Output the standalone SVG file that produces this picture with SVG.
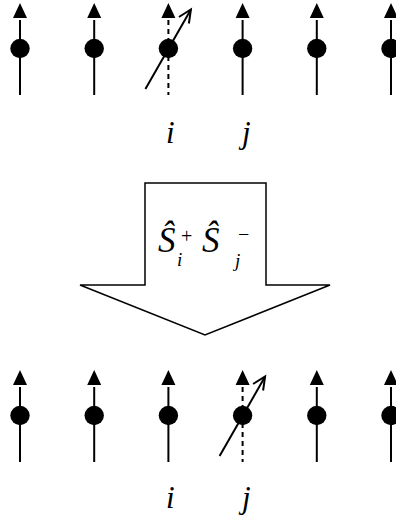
<svg xmlns="http://www.w3.org/2000/svg" width="396" height="517" viewBox="0 0 396 517">
<style>
.stem{stroke:#000;stroke-width:2;fill:none}
.dash{stroke:#000;stroke-width:2;fill:none;stroke-dasharray:5,4}
.head{fill:#000}
.dot{fill:#000}
.tilt{stroke:#000;stroke-width:2;fill:none}
.lbl{font-family:"Liberation Serif","Times New Roman",serif;font-style:italic;font-size:31px;fill:#000}
.S{font-family:"Liberation Serif","Times New Roman",serif;font-style:italic;font-size:35px;fill:#000}
.sub{font-family:"Liberation Serif","Times New Roman",serif;font-style:italic;font-size:19px;fill:#000}
.op{font-family:"Liberation Serif","Times New Roman",serif;font-size:20px;fill:#000}
.big{fill:#fff;stroke:#000;stroke-width:1.5;stroke-linejoin:miter}
</style>
<defs>
<g id="spin">
<line class="stem" x1="0" y1="17" x2="0" y2="92"/>
<polygon class="head" points="0,0 7,15 -7,15"/>
<circle class="dot" cx="0" cy="45.5" r="9.7"/>
</g>
<g id="spinflip">
<line class="dash" x1="0" y1="17" x2="0" y2="92"/>
<polygon class="head" points="0,0 7,15 -7,15"/>
<circle class="dot" cx="0" cy="45.5" r="9.7"/>
<line class="tilt" x1="-23" y1="86" x2="22.5" y2="6.5"/>
<polyline class="tilt" points="10.5,14 22.5,6.5 20.5,20.5"/>
</g>
</defs>
<g id="top-row">
<g id="t1"><use href="#spin" x="20" y="3"/></g>
<g id="t2"><use href="#spin" x="94.2" y="3"/></g>
<g id="t3"><use href="#spinflip" x="168.4" y="3"/></g>
<g id="t4"><use href="#spin" x="242.6" y="3"/></g>
<g id="t5"><use href="#spin" x="316.8" y="3"/></g>
<g id="t6"><use href="#spin" x="391" y="3"/></g>
</g>
<g id="top-labels">
<text class="lbl" x="166" y="143">i</text>
<text class="lbl" x="242" y="143">j</text>
</g>
<g id="operator">
<polygon class="big" points="145,183 266,183 266,285 330,285 205,335 80,285 145,285"/>
<text class="S" x="158" y="252">Ŝ</text>
<text class="sub" x="177" y="266">i</text>
<text class="op" x="181" y="243">+</text>
<text class="S" x="202" y="252">Ŝ</text>
<text class="sub" x="235" y="267">j</text>
<text class="op" x="238" y="241">−</text>
</g>
<g id="bottom-row">
<g id="b1"><use href="#spin" x="20" y="370"/></g>
<g id="b2"><use href="#spin" x="94.2" y="370"/></g>
<g id="b3"><use href="#spin" x="168.4" y="370"/></g>
<g id="b4"><use href="#spinflip" x="242.6" y="370"/></g>
<g id="b5"><use href="#spin" x="316.8" y="370"/></g>
<g id="b6"><use href="#spin" x="391" y="370"/></g>
</g>
<g id="bottom-labels">
<text class="lbl" x="166" y="508">i</text>
<text class="lbl" x="242" y="508">j</text>
</g>
<g id="connectors"></g>
</svg>
